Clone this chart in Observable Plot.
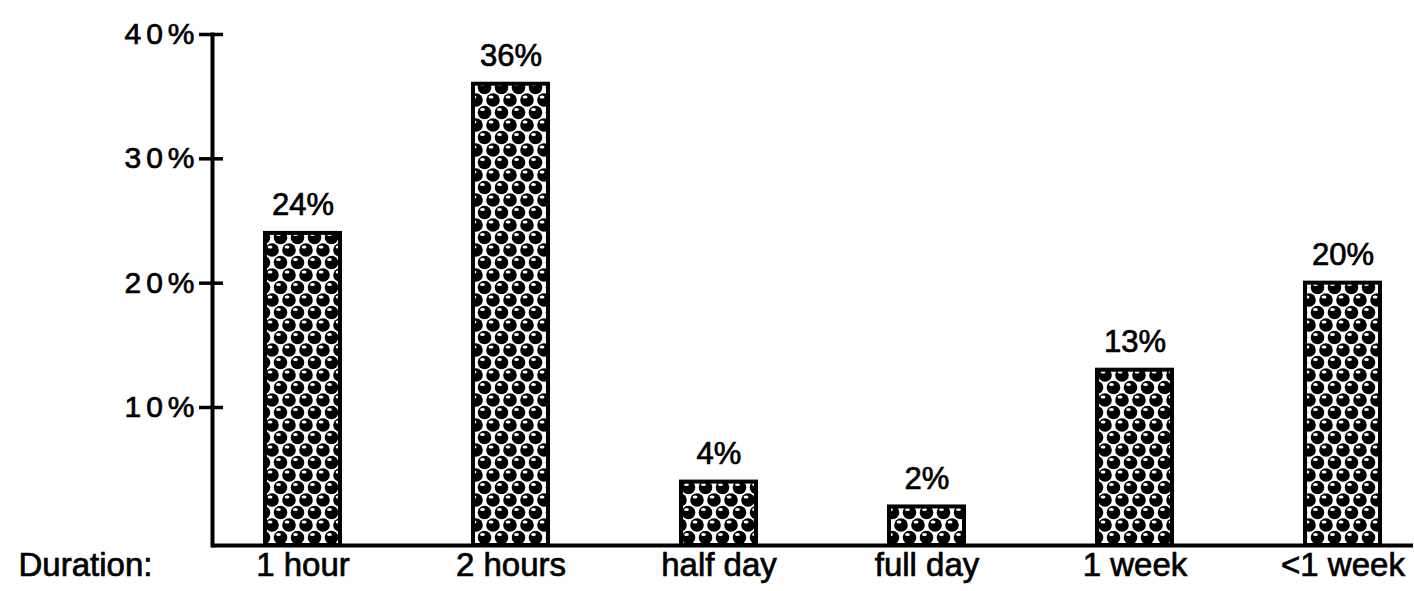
<!DOCTYPE html>
<html>
<head>
<meta charset="utf-8">
<script src="https://cdn.jsdelivr.net/npm/d3@7"></script>
<script src="https://cdn.jsdelivr.net/npm/@observablehq/plot@0.6"></script>
<style>
  html, body { margin: 0; padding: 0; background: #fff; }
  #chart { width: 1414px; height: 591px; }
  #chart svg text { stroke: black; stroke-width: 0.7px; }
</style>
</head>
<body>
<div id="chart"></div>
<script>
// Data
const categories = ["1 hour", "2 hours", "half day", "full day", "1 week", "<1 week"];
const values = [24, 36, 4, 2, 13, 20];
const valueLabels = ["24%", "36%", "4%", "2%", "13%", "20%"];
const yTicks = [10, 20, 30, 40];
const yTickLabels = ["10%", "20%", "30%", "40%"];
const axisTitle = "Duration:";

const data = categories.map((c, i) => ({cat: c, value: values[i], label: valueLabels[i]}));
const yBase = -1.1; // baseline drawn slightly below the zero level, as in the original

const font = "'Liberation Sans', Arial, Helvetica, sans-serif";

const chart = Plot.plot({
  width: 1414,
  height: 591,
  marginTop: 34,
  marginBottom: 46,
  marginLeft: 212,
  marginRight: 1,
  style: {fontFamily: font, fontSize: "30px", background: "white", color: "black", overflow: "visible"},
  x: {domain: categories, range: [264, 1381], paddingInner: 0.64, paddingOuter: 0, axis: null},
  y: {domain: [yBase, 40], axis: null},
  marks: [
    Plot.barY(data, {x: "cat", y1: yBase, y2: "value", fill: "url(#dots)", stroke: "black", strokeWidth: 4}),
    Plot.text(data, {x: "cat", y: "value", text: "label", lineAnchor: "bottom", dy: -18, fontSize: 31, fill: "black"}),
    Plot.axisY({ticks: yTicks, tickFormat: (d) => yTickLabels[yTicks.indexOf(d)], tickSize: 13, tickPadding: 0, strokeWidth: 3.5, fontSize: 30, label: null, anchor: "left"}),
    Plot.axisY({ticks: yTicks, tickFormat: () => "", tickSize: -11, tickPadding: 0, strokeWidth: 3.5, label: null, anchor: "left"}),
    Plot.axisX({tickSize: 0, tickPadding: 7, fontSize: 33, label: null}),
    Plot.frame({anchor: "left", strokeWidth: 4}),
    Plot.ruleY([yBase], {strokeWidth: 4}),
    Plot.text([axisTitle], {frameAnchor: "bottom-left", dx: -194, dy: 7, lineAnchor: "top", textAnchor: "start", fontSize: 33, fill: "black"})
  ]
});

// Patterned fill for the bars (spheres on a checker-like ground)
const defs = d3.select(chart).insert("defs", ":first-child");
const pat = defs.append("pattern")
  .attr("id", "dots").attr("patternUnits", "userSpaceOnUse")
  .attr("width", 17).attr("height", 25);
pat.append("rect").attr("width", 17).attr("height", 25).attr("fill", "white");
const centers = [[0, 0], [17, 0], [8.5, 12.5], [0, 25], [17, 25]];
for (const [cx, cy] of centers) {
  pat.append("circle").attr("cx", cx).attr("cy", cy).attr("r", 6.8).attr("fill", "black");
  pat.append("ellipse").attr("cx", cx - 2).attr("cy", cy - 3).attr("rx", 2.4).attr("ry", 1.5).attr("fill", "white");
}

// letter spacing on y tick labels
d3.select(chart).selectAll("g[aria-label='y-axis tick label'] text").style("letter-spacing", "5px");

document.getElementById("chart").appendChild(chart);
</script>
</body>
</html>
